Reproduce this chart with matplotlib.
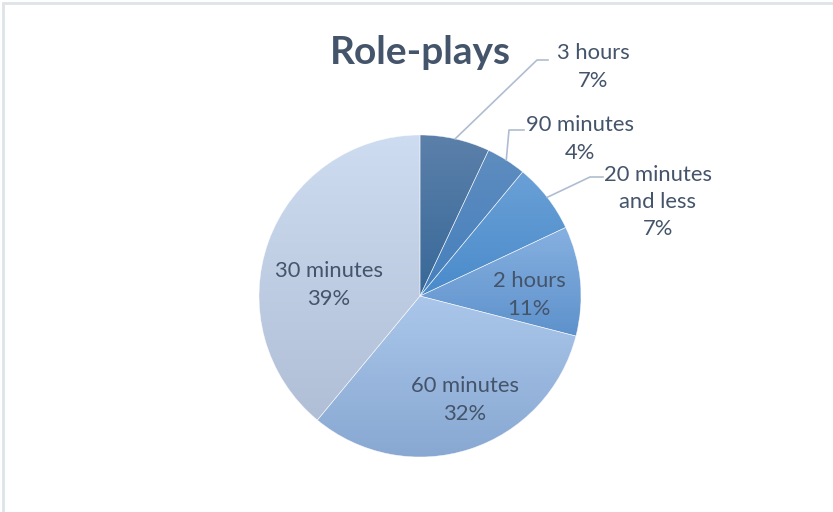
import numpy as np
import matplotlib.pyplot as plt
from matplotlib.colors import LinearSegmentedColormap

# slices, clockwise from 12 o'clock
categories = ["3 hours", "90 minutes", "20 minutes\nand less", "2 hours", "60 minutes", "30 minutes"]
shares = [7, 4, 7, 11, 32, 39]

# top / bottom colour of each slice's vertical gradient
top_colors = ["#5b80aa", "#5e8cbf", "#6aa0d6", "#86b0e0", "#aac6ea", "#cddcf0"]
bottom_colors = ["#386898", "#4580bd", "#4a8bcb", "#5e92cc", "#88a8d2", "#b0bfd6"]

TEXT = "#44546a"
plt.rcParams['font.family'] = ['Lato', 'DejaVu Sans']

W, H = 833, 512
fig = plt.figure(figsize=(W / 100, H / 100), dpi=100)
ax = fig.add_axes([0, 0, 1, 1])

cx, cy, r = 420, H - 296, 161
wedges, _ = ax.pie(shares, startangle=90, counterclock=False, center=(cx, cy),
                   radius=r, frame=True,
                   wedgeprops=dict(facecolor='none', edgecolor=(1, 1, 1, 0.7), linewidth=0.4))

grad = np.linspace(1, 0, 64).reshape(-1, 1)
for w, c0, c1 in zip(wedges, top_colors, bottom_colors):
    verts = w.get_path().vertices
    y0, y1 = verts[:, 1].min(), verts[:, 1].max()
    cmap = LinearSegmentedColormap.from_list('g', [c1, c0])
    im = ax.imshow(grad, cmap=cmap, extent=(cx - r, cx + r, y0, y1),
                   origin='upper', aspect='auto', zorder=1, interpolation='bilinear')
    im.set_clip_path(w)
    w.set_zorder(2)

ax.set_xlim(0, W)
ax.set_ylim(0, H)
ax.axis('off')

ax.text(420, H - 52, "Role-plays", ha='center', va='center', fontsize=28,
        fontweight='bold', color=TEXT)

# labels inside the larger slices
inside = {3: (529, 295), 4: (465, 400), 5: (329, 285)}
# labels outside with leader lines: text centre, elbow point, line end
outside = {0: ((593, 67), (537, 60), (548, 60)),
           1: ((580, 139), (509, 130), (524, 130)),
           2: ((658, 202), (590, 177), (603, 177))}

cum = np.cumsum([0] + shares[:-1])
for i, (cat, val) in enumerate(zip(categories, shares)):
    label = f"{cat}\n{val}%"
    if i in inside:
        x, y = inside[i]
        ax.text(x, H - y, label, ha='center', va='center', fontsize=15.8,
                color=TEXT, linespacing=1.45, zorder=5)
    else:
        (tx, ty), (ex, ey), (lx, ly) = outside[i]
        mid = np.deg2rad(90 - (cum[i] + val / 2) * 3.6)
        px, py = cx + r * np.cos(mid), cy + r * np.sin(mid)
        ax.plot([px, ex, lx], [py, H - ey, H - ly], color='#b0bdd0', lw=1.2, zorder=4)
        ax.text(tx, H - ty, label, ha='center', va='center', fontsize=15.8,
                color=TEXT, linespacing=1.45, zorder=5)

# chart frame edge
ax.plot([3, 3, W], [0, H - 3, H - 3], color='#dee3e9', lw=2, zorder=6,
        solid_joinstyle='miter')

fig.savefig('out.png', dpi=100)
